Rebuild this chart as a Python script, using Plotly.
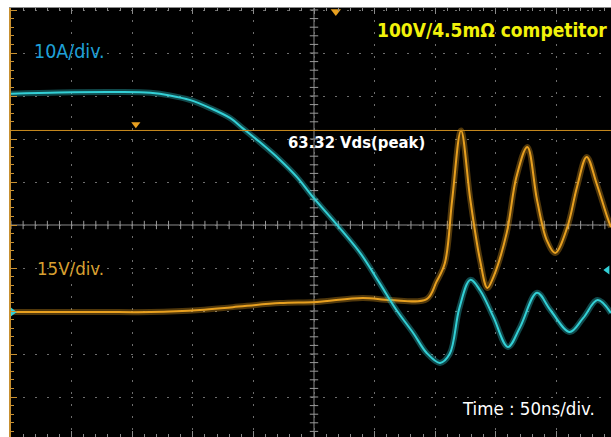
import numpy as np
import plotly.graph_objects as go

# ---------------- data ----------------
# Channel 1: drain current, 10 A/div
time_ns_i = [0, 40, 90, 115, 131, 148, 164, 181, 191, 205, 222, 236, 249, 269,
             288, 304, 318, 332, 343, 354, 362, 370, 379, 387, 398, 410, 420,
             434, 445, 461, 472, 484, 495]
current_A = [41.0, 41.3, 41.4, 41.2, 40.6, 39.5, 37.7, 35.3, 33.0, 29.8, 25.6,
             21.6, 17.0, 10.5, 4.0, -3.0, -9.3, -14.7, -19.3, -21.6, -19.5,
             -8.8, -2.3, -4.7, -10.9, -17.9, -13.3, -5.3, -9.3, -14.4, -11.2,
             -7.0, -10.0]

# Channel 2: drain-source voltage, 15 V/div
time_ns_v = [0, 73, 115, 156, 183, 222, 252, 290, 313, 343, 351, 358, 364,
             371.3, 379, 387, 393, 398, 409, 417, 426, 434, 442, 449, 459, 467,
             475, 483, 492, 495]
vds_V = [0.0, 0.0, 0.0, 0.7, 1.7, 3.1, 3.5, 4.9, 4.2, 4.5, 10.5, 17.1, 39.1,
         63.32, 39.1, 18.1, 8.4, 12.2, 27.6, 47.1, 57.6, 39.1, 25.1, 20.6, 29.6,
         43.6, 54.1, 45.0, 33.1, 29.6]

vds_peak = 63.32
ch1_label = "10A/div."
ch2_label = "15V/div."
title_label = "100V/4.5mΩ competitor"
peak_label = f"{vds_peak:.2f} Vds(peak)"
time_label = "Time : 50ns/div."

# ---------------- scope layout ----------------
W, H = 611, 437
ML, MT = 11, 8
NS_PER_DIV = 50
DIV_X_PX = 60.6
DIV_Y_PX = 43.0
CENTER_Y_PX = 225
T_MAX = (W - ML) / DIV_X_PX * NS_PER_DIV
Y_HI = (CENTER_Y_PX - MT) / DIV_Y_PX
Y_LO = -(H - CENTER_Y_PX) / DIV_Y_PX

V_PER_DIV, V_OFF_DIV = 15, (CENTER_Y_PX - 312) / DIV_Y_PX
A_PER_DIV, A_OFF_DIV = 10, (CENTER_Y_PX - 270) / DIV_Y_PX

CYAN = "#33d0d6"
ORANGE = "#e8a020"
GRID = "#6e6e6e"
FONT = "Liberation Sans Narrow, DejaVu Sans Condensed, Roboto, sans-serif"

fig = go.Figure()

# center cross with minor ticks
t_center = 5 * NS_PER_DIV
fig.add_shape(type="line", xref="x", yref="paper", x0=t_center, x1=t_center,
              y0=0, y1=1, line=dict(color="#8c8c8c", width=1), layer="below")
fig.add_shape(type="line", xref="paper", yref="y", x0=0, x1=1, y0=0, y1=0,
              line=dict(color="#8c8c8c", width=1), layer="below")
tx = np.arange(0, T_MAX, NS_PER_DIV / 5)
fig.add_trace(go.Scatter(x=tx, y=np.zeros_like(tx), mode="markers", hoverinfo="skip",
                         marker=dict(symbol="line-ns", size=6,
                                     line=dict(color="#9a9a9a", width=1)),
                         showlegend=False))
ty = np.arange(np.ceil(Y_LO * 5) / 5, Y_HI, 0.2)
fig.add_trace(go.Scatter(x=np.full_like(ty, t_center), y=ty, mode="markers",
                         hoverinfo="skip",
                         marker=dict(symbol="line-ew", size=6,
                                     line=dict(color="#9a9a9a", width=1)),
                         showlegend=False))

# peak cursor
fig.add_shape(type="line", xref="paper", yref="y2", x0=0, x1=1,
              y0=vds_peak, y1=vds_peak, line=dict(color="#c98a1e", width=1))

# traces (wide faint band + core line to mimic the scope noise band)
for x, y, c, ax in [(time_ns_v, vds_V, ORANGE, "y2"), (time_ns_i, current_A, CYAN, "y3")]:
    fig.add_trace(go.Scatter(x=x, y=y, yaxis=ax, mode="lines", line=dict(color=c, width=6),
                             line_shape="spline", opacity=0.35, showlegend=False))
    fig.add_trace(go.Scatter(x=x, y=y, yaxis=ax, mode="lines", line=dict(color=c, width=2),
                             line_shape="spline", showlegend=False))

# markers
fig.add_trace(go.Scatter(x=[103], y=[vds_peak + 2.2], yaxis="y2", mode="markers",
                         marker=dict(symbol="triangle-down", size=8, color=ORANGE),
                         showlegend=False))
fig.add_trace(go.Scatter(x=[268], y=[Y_HI - 0.08], mode="markers", cliponaxis=False,
                         marker=dict(symbol="triangle-down", size=9, color=ORANGE),
                         showlegend=False))
fig.add_trace(go.Scatter(x=[1.5], y=[0], yaxis="y2", mode="markers", cliponaxis=False,
                         marker=dict(symbol="triangle-right", size=8, color=CYAN),
                         showlegend=False))
fig.add_trace(go.Scatter(x=[T_MAX - 3], y=[0], yaxis="y3", mode="markers",
                         marker=dict(symbol="triangle-left", size=8, color=CYAN),
                         showlegend=False))
fig.add_trace(go.Scatter(x=[T_MAX + 1], y=[(CENTER_Y_PX - 50) / DIV_Y_PX], mode="markers",
                         marker=dict(symbol="circle", size=9, color=ORANGE),
                         showlegend=False))

def px(xp):
    return (xp - ML) / (W - ML)

def py(yp):
    return (H - yp) / (H - MT)

ann = [
    (ch1_label, px(32), py(52), "left", dict(color="#1fa0d8", size=19.5)),
    (ch2_label, px(35), py(268), "left", dict(color="#d9a030", size=18.5)),
    (title_label, px(609), py(30), "right", dict(color="#f2f20a", size=19, weight="bold")),
    (peak_label, px(286), py(142), "left", dict(color="white", size=16.5, weight="bold")),
    (time_label, px(460), py(408), "left", dict(color="white", size=18.5)),
]
for text, x, y, xa, f in ann:
    fig.add_annotation(text=text, x=x, y=y, xref="paper", yref="paper",
                       xanchor=xa, yanchor="middle", showarrow=False,
                       font=dict(family=FONT, **f))

fig.update_layout(
    width=W, height=H,
    margin=dict(l=ML, r=0, t=MT, b=0),
    paper_bgcolor="white", plot_bgcolor="black",
    showlegend=False,
    xaxis=dict(range=[0, T_MAX], dtick=NS_PER_DIV, tick0=0, showticklabels=False,
               showgrid=True, gridcolor=GRID, griddash="2px,10px", gridwidth=1,
               zeroline=False, showline=True, linecolor="#8a8a8a", mirror="ticks",
               ticks="inside", ticklen=6, tickcolor="#8a8a8a",
               minor=dict(ticks="inside", dtick=NS_PER_DIV / 5, ticklen=3,
                          tickcolor="#8a8a8a", showgrid=False)),
    yaxis=dict(range=[Y_LO, Y_HI], dtick=1, tick0=0, showticklabels=False,
               showgrid=True, gridcolor=GRID, griddash="2px,10px", gridwidth=1,
               zeroline=False, showline=True, linecolor="#c89030", linewidth=2,
               ticks="inside", ticklen=6, tickcolor="#c89030",
               minor=dict(ticks="inside", dtick=0.2, ticklen=3, tickcolor="#c89030",
                          showgrid=False)),
    yaxis2=dict(overlaying="y", visible=False,
                range=[(Y_LO - V_OFF_DIV) * V_PER_DIV, (Y_HI - V_OFF_DIV) * V_PER_DIV]),
    yaxis3=dict(overlaying="y", visible=False,
                range=[(Y_LO - A_OFF_DIV) * A_PER_DIV, (Y_HI - A_OFF_DIV) * A_PER_DIV]),
)

fig.write_html("out.html")
